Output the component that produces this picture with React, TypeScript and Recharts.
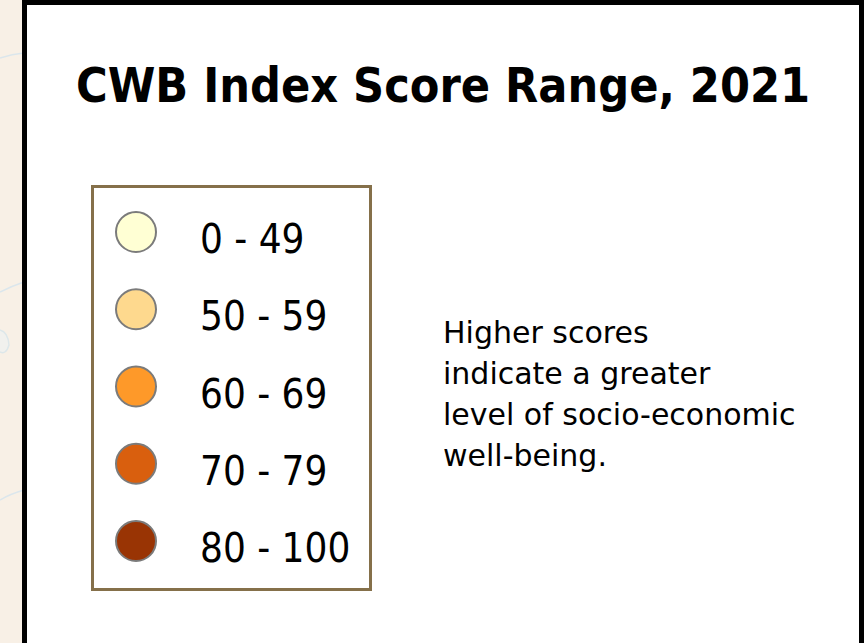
import React from 'react';
import { ScatterChart, Scatter, XAxis, YAxis } from 'recharts';

// Score classes, top to bottom
const ranges = ['0 - 49', '50 - 59', '60 - 69', '70 - 79', '80 - 100'];
const classColors = ['#ffffd4', '#fed98e', '#fe9929', '#d95f0e', '#993404'];
const noteLines = ['Higher scores', 'indicate a greater', 'level of socio-economic', 'well-being.'];
const title = 'CWB Index Score Range, 2021';

const rows = ranges.map((label, i) => ({ x: 0, y: i, label, color: classColors[i] }));

const condensed = '"DejaVu Sans Condensed", "DejaVu Sans", sans-serif';

const LegendDot = (props: any) => {
  const { cx, cy, payload } = props;
  return (
    <g>
      <circle cx={cx} cy={cy} r={20} fill={payload.color} stroke="#7b7b7b" strokeWidth={2} />
      <text
        x={cx + 64}
        y={cy + 21}
        fontFamily={condensed}
        fontSize={40}
        fill="#000"
      >
        {payload.label}
      </text>
    </g>
  );
};

const App: React.FC = () => {
  return (
    <div
      style={{
        position: 'absolute',
        left: 0,
        top: 0,
        width: 864,
        height: 643,
        overflow: 'hidden',
        background: '#f8f0e6',
      }}
    >
      {/* faint map lines behind the panel */}
      <svg width={864} height={643} style={{ position: 'absolute', left: 0, top: 0 }}>
        <path d="M0 58 Q12 54 24 53" stroke="#dbe6ec" strokeWidth={1.5} fill="none" />
        <path d="M0 292 Q12 286 24 282" stroke="#dbe6ec" strokeWidth={1.5} fill="none" />
        <path d="M0 330 Q8 332 9 345 Q6 355 0 352" stroke="#dde7ea" strokeWidth={1.5} fill="#f1f1ee" />
        <path d="M0 500 Q10 494 24 490" stroke="#dbe6ec" strokeWidth={1.5} fill="none" />
      </svg>

      {/* white panel with black frame */}
      <div
        style={{
          position: 'absolute',
          left: 22,
          top: 0,
          width: 842,
          height: 700,
          boxSizing: 'border-box',
          border: '5px solid #000',
          background: '#fff',
        }}
      />

      <div
        style={{
          position: 'absolute',
          left: 22,
          top: 61,
          width: 842,
          textAlign: 'center',
          fontFamily: condensed,
          fontWeight: 'bold',
          fontSize: 48,
          lineHeight: '48px',
          color: '#000',
          whiteSpace: 'nowrap',
        }}
      >
        {title}
      </div>

      {/* legend box */}
      <div
        style={{
          position: 'absolute',
          left: 91,
          top: 185,
          width: 281,
          height: 406,
          boxSizing: 'border-box',
          border: '3px solid #85704a',
          background: '#fff',
        }}
      >
        <ScatterChart width={275} height={400} margin={{ top: 44, right: 0, bottom: 47, left: 42 }}>
          <XAxis type="number" dataKey="x" domain={[0, 1]} hide />
          <YAxis type="number" dataKey="y" domain={[0, 4]} reversed hide />
          <Scatter data={rows} shape={<LegendDot />} isAnimationActive={false} />
        </ScatterChart>
      </div>

      <div
        style={{
          position: 'absolute',
          left: 443,
          top: 312,
          fontFamily: '"DejaVu Sans", sans-serif',
          fontSize: 30,
          lineHeight: '41px',
          color: '#000',
          whiteSpace: 'nowrap',
        }}
      >
        {noteLines.map((line) => (
          <div key={line}>{line}</div>
        ))}
      </div>
    </div>
  );
};

export default App;
